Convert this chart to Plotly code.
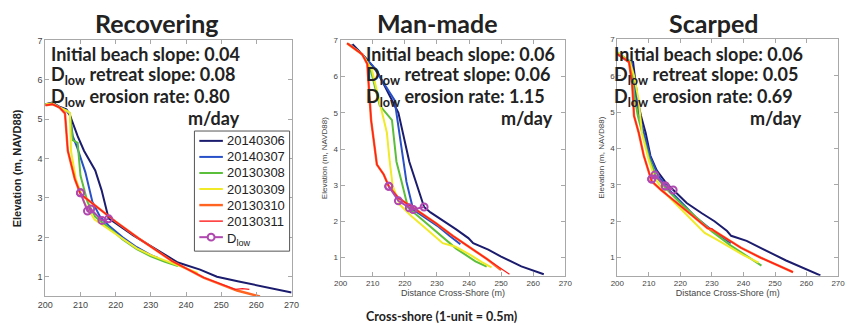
import plotly.graph_objects as go

W, H = 850, 325

# ---------------- data -----------------
dates = ["20140306", "20140307", "20130308", "20130309", "20130310", "20130311"]
colors = ["#1c1c6e", "#2850c8", "#5cbf3c", "#f0ea28", "#ff6420", "#ff1e1e"]
widths = [2, 2, 2, 2, 2.4, 1.2]
dlow_color = "#b048b0"
dlow_label = "D<sub>low</sub>"

# Recovering beach profiles (distance m, elevation m NAVD88)
rec_x_0306 = [200, 202, 204, 206, 207, 208.4, 209.2, 211, 214.2, 216, 218, 220, 225, 230, 237.7, 244, 247, 248.8, 255, 262, 270]
rec_y_0306 = [5.38, 5.42, 5.32, 5.25, 5.1, 4.73, 4.57, 4.2, 3.7, 3.2, 2.48, 2.36, 2.05, 1.78, 1.36, 1.18, 1.08, 1.0, 0.88, 0.75, 0.6]
rec_x_0307 = [200, 202, 204, 206, 207, 207.8, 209, 211.4, 213.4, 215.6, 218, 222, 226, 230, 232]
rec_y_0307 = [5.38, 5.4, 5.3, 5.22, 5.1, 4.57, 4.3, 3.65, 2.9, 2.52, 2.3, 2.0, 1.75, 1.55, 1.48]
rec_x_0308 = [200, 202, 204, 206, 207, 207.8, 209.2, 210, 212, 214.2, 218, 222, 226, 230, 234, 237.7]
rec_y_0308 = [5.38, 5.4, 5.3, 5.22, 5.15, 4.47, 4.4, 3.57, 2.9, 2.52, 2.25, 1.95, 1.7, 1.52, 1.38, 1.27]
rec_x_0309 = [200, 202, 204, 206, 207, 207.3, 208.7, 211, 214, 218, 222, 226, 230, 235, 240, 243.3]
rec_y_0309 = [5.38, 5.4, 5.3, 5.22, 5.15, 4.2, 3.48, 2.9, 2.45, 2.2, 1.95, 1.72, 1.55, 1.38, 1.2, 1.1]
rec_x_0310 = [200, 202, 204, 205.6, 206.4, 208.4, 210, 215, 220, 226.5, 236, 245, 254.5, 261]
rec_y_0310 = [5.35, 5.38, 5.3, 5.15, 4.2, 3.48, 3.1, 2.75, 2.4, 1.98, 1.4, 0.98, 0.65, 0.5]
rec_x_0311 = [200, 202, 204, 205.6, 206.4, 208.4, 210, 215, 220, 226.5, 236, 245, 254, 256, 258]
rec_y_0311 = [5.35, 5.38, 5.3, 5.15, 4.2, 3.48, 3.1, 2.75, 2.4, 1.98, 1.4, 0.98, 0.68, 0.7, 0.68]
rec_dlow_x = [218, 216.1, 212.9, 212, 210, 210]
rec_dlow_y = [2.47, 2.43, 2.72, 2.67, 3.13, 3.13]

# Man-made beach profiles
man_x_0306 = [203.7, 206.7, 211.3, 218, 221.4, 223.5, 226, 228, 231.8, 236, 239.8, 241.3, 246, 250, 256.3, 263.3]
man_y_0306 = [6.9, 6.62, 6.16, 5.0, 3.65, 3.1, 2.4, 2.25, 2.03, 1.78, 1.54, 1.4, 1.22, 1.03, 0.76, 0.54]
man_x_0307 = [203, 206.7, 210, 216.8, 219.6, 220.5, 222.6, 226, 230.6, 234, 237.3]
man_y_0307 = [6.88, 6.62, 6.3, 5.35, 3.65, 3.1, 2.33, 2.12, 1.85, 1.6, 1.37]
man_x_0308 = [202.5, 206.7, 209, 212.2, 216, 217.4, 219, 221, 225, 230, 236, 242, 245.5]
man_y_0308 = [6.9, 6.62, 6.3, 5.2, 4.8, 3.65, 3.1, 2.38, 2.08, 1.7, 1.25, 0.9, 0.75]
man_x_0309 = [202.3, 206.7, 209.7, 214.4, 215.3, 216.2, 218.3, 222, 226, 229.7, 231.8, 235.8, 240, 244, 247]
man_y_0309 = [6.9, 6.62, 6.2, 4.46, 3.65, 3.0, 2.48, 2.15, 1.85, 1.57, 1.4, 1.3, 1.1, 0.88, 0.73]
man_x_0310 = [202, 206.7, 208.3, 209.5, 211.3, 213.4, 215, 218, 222.6, 229.7, 235, 239.8, 245.8, 250]
man_y_0310 = [6.92, 6.62, 6.35, 4.8, 3.57, 3.3, 2.97, 2.65, 2.38, 1.95, 1.6, 1.3, 0.95, 0.66]
man_x_0311 = [202, 206.7, 208.3, 209.5, 211.3, 213.4, 215, 218, 222.6, 229.7, 235, 239.8, 245.8, 252.6]
man_y_0311 = [6.92, 6.62, 6.35, 4.8, 3.57, 3.3, 2.97, 2.65, 2.38, 1.95, 1.6, 1.3, 0.95, 0.54]
man_dlow_x = [226, 222.6, 221.4, 218, 215, 215]
man_dlow_y = [2.4, 2.33, 2.38, 2.57, 2.97, 2.97]

# Scarped beach profiles
sca_x_0306 = [200, 203.7, 205, 206.5, 207.5, 209, 210.5, 212.5, 215.5, 217.7, 222, 226.8, 230.8, 234.8, 236.1, 241, 249.5, 253.5, 264.4]
sca_y_0306 = [6.6, 6.38, 6.38, 5.3, 4.9, 4.43, 3.8, 3.4, 3.05, 2.86, 2.5, 2.22, 2.0, 1.73, 1.6, 1.46, 1.1, 0.92, 0.51]
sca_x_0307 = [200, 204.5, 206, 207, 208.5, 210.5, 213, 216, 220, 225, 230, 236]
sca_y_0307 = [6.62, 6.38, 5.4, 4.9, 4.4, 3.75, 3.25, 2.9, 2.55, 2.1, 1.75, 1.4]
sca_x_0308 = [200, 204.2, 205.5, 206.5, 208, 210, 212.5, 216, 220, 225, 230, 236, 242, 245.7]
sca_y_0308 = [6.65, 6.38, 5.4, 4.9, 4.4, 3.75, 3.2, 2.85, 2.5, 2.1, 1.72, 1.33, 0.98, 0.78]
sca_x_0309 = [200, 204, 205.3, 206.8, 207.8, 209.9, 212, 216, 220, 224, 227.7, 231, 236.1, 240, 244.8]
sca_y_0309 = [6.65, 6.38, 6.0, 5.32, 4.43, 3.7, 3.16, 2.7, 2.35, 2.0, 1.68, 1.52, 1.27, 1.07, 0.86]
sca_x_0310 = [200, 203.7, 204.7, 205.3, 206.8, 208.4, 210.9, 214, 218.4, 223, 228.6, 230.8, 235, 239.2, 245.4, 249.5, 255.7]
sca_y_0310 = [6.6, 6.38, 5.78, 4.9, 4.43, 3.8, 3.1, 2.85, 2.54, 2.2, 1.81, 1.73, 1.5, 1.27, 1.0, 0.84, 0.6]
sca_x_0311 = [200, 203.7, 204.7, 205.3, 206.8, 208.4, 210.9, 214, 218.4, 223, 228.6, 230, 231, 235, 239.2, 245.4, 249.5, 255.7]
sca_y_0311 = [6.6, 6.38, 5.78, 4.9, 4.43, 3.8, 3.1, 2.85, 2.54, 2.2, 1.81, 1.8, 1.72, 1.5, 1.27, 1.0, 0.84, 0.6]
sca_dlow_x = [217.7, 215.2, 215.2, 211.9, 210.9, 210.9]
sca_dlow_y = [2.86, 2.97, 2.97, 3.27, 3.16, 3.16]

panel_titles = ["Recovering", "Man-made", "Scarped"]
initial_slopes = ["0.04", "0.06", "0.06"]
retreat_slopes = ["0.08", "0.06", "0.05"]
erosion_rates = ["0.80", "1.15", "0.69"]

x_ticks = [200, 210, 220, 230, 240, 250, 260, 270]
y_ticks = [1, 2, 3, 4, 5, 6, 7]

panels = [
    ([rec_x_0306, rec_x_0307, rec_x_0308, rec_x_0309, rec_x_0310, rec_x_0311],
     [rec_y_0306, rec_y_0307, rec_y_0308, rec_y_0309, rec_y_0310, rec_y_0311],
     rec_dlow_x, rec_dlow_y),
    ([man_x_0306, man_x_0307, man_x_0308, man_x_0309, man_x_0310, man_x_0311],
     [man_y_0306, man_y_0307, man_y_0308, man_y_0309, man_y_0310, man_y_0311],
     man_dlow_x, man_dlow_y),
    ([sca_x_0306, sca_x_0307, sca_x_0308, sca_x_0309, sca_x_0310, sca_x_0311],
     [sca_y_0306, sca_y_0307, sca_y_0308, sca_y_0309, sca_y_0310, sca_y_0311],
     sca_dlow_x, sca_dlow_y),
]

# plot areas in pixels: (left, right, top, bottom)
boxes = [(38, 289, 36, 296), (339, 568, 36, 275), (621, 846, 35, 275)]


def px_x(p):
    return p / W


def px_y(p):
    return 1 - p / H


fig = go.Figure()

for i, (xs, ys, dx, dy) in enumerate(panels):
    sfx = "" if i == 0 else str(i + 1)
    for k in range(6):
        fig.add_trace(go.Scatter(
            x=xs[k], y=ys[k], mode="lines", name=dates[k],
            line=dict(color=colors[k], width=widths[k]),
            xaxis="x" + sfx, yaxis="y" + sfx, showlegend=False))
    fig.add_trace(go.Scatter(
        x=dx, y=dy, mode="lines+markers", name=dlow_label,
        line=dict(color=dlow_color, width=2),
        marker=dict(symbol="circle-open", size=7, color=dlow_color, line=dict(width=2)),
        xaxis="x" + sfx, yaxis="y" + sfx, showlegend=False))

axis_common = dict(showgrid=False, zeroline=False, mirror="allticks", showline=True,
                   linecolor="#a8a8a8", linewidth=1, ticks="inside", ticklen=4,
                   tickcolor="#a8a8a8")

layout = dict(width=W, height=H, margin=dict(l=0, r=0, t=0, b=0),
              paper_bgcolor="white", plot_bgcolor="white", showlegend=False,
              font=dict(family="Arial, Liberation Sans", color="#333"))

annotations = []
shapes = []
for i, (l, r, t, b) in enumerate(boxes):
    sfx = "" if i == 0 else str(i + 1)
    tick_size = 9 if i == 0 else 8
    xa = dict(axis_common, domain=[px_x(l), px_x(r)], range=[200, 270], tickvals=x_ticks,
              tickfont=dict(size=tick_size, color="#444"), anchor="y" + sfx)
    ya = dict(axis_common, domain=[px_y(b), px_y(t)], range=[0.5, 7], tickvals=y_ticks,
              tickfont=dict(size=tick_size, color="#444"), anchor="x" + sfx)
    if i == 0:
        ya["title"] = dict(text="<b>Elevation (m, NAVD88)</b>", font=dict(size=11, color="#222"), standoff=13)
    else:
        xa["title"] = dict(text="Distance Cross-Shore (m)", font=dict(size=9, color="#444"), standoff=0)
        ya["title"] = dict(text="Elevation (m, NAVD88)", font=dict(size=8, color="#444"), standoff=4)
    layout["xaxis" + sfx] = xa
    layout["yaxis" + sfx] = ya

# panel titles
title_centers = [152, 438, 719]
for i, name in enumerate(panel_titles):
    annotations.append(dict(text="<b>" + name + "</b>", xref="paper", yref="paper",
                            x=px_x(title_centers[i]), y=px_y(18), xanchor="center", yanchor="middle",
                            showarrow=False, font=dict(family="Lato", size=25, color="#222")))

# slope / rate text blocks
text_left = [42, 363, 616]
text_right = [238, 558, 811]
line_ys = [50, 72, 94, 115]
info_font = dict(family="Lato", size=18, color="#222")
for i in range(3):
    lines = ["<b>Initial beach slope: " + initial_slopes[i] + "</b>",
             "<b>D<sub>low</sub> retreat slope: " + retreat_slopes[i] + "</b>",
             "<b>D<sub>low</sub> erosion rate: " + erosion_rates[i] + "</b>"]
    for j, txt in enumerate(lines):
        annotations.append(dict(text=txt, xref="paper", yref="paper",
                                x=px_x(text_left[i]), y=px_y(line_ys[j]), xanchor="left",
                                yanchor="middle", showarrow=False, font=info_font))
    annotations.append(dict(text="<b>m/day</b>", xref="paper", yref="paper",
                            x=px_x(text_right[i]), y=px_y(line_ys[3]), xanchor="right",
                            yanchor="middle", showarrow=False, font=info_font))

annotations.append(dict(text="<b>Cross-shore (1-unit = 0.5m)</b>", xref="paper", yref="paper",
                        x=px_x(442), y=px_y(316), xanchor="center", yanchor="middle",
                        showarrow=False, font=dict(family="Lato", size=12.5, color="#222")))

# legend box for the Recovering panel, drawn in paper pixels
leg_l, leg_r, leg_t, leg_b = 190, 287, 128, 250
shapes.append(dict(type="rect", xref="paper", yref="paper",
                   x0=px_x(leg_l), x1=px_x(leg_r), y0=px_y(leg_b), y1=px_y(leg_t),
                   line=dict(color="#555", width=1), fillcolor="white", layer="above"))
leg_labels = dates + [dlow_label]
leg_colors = colors + [dlow_color]
leg_widths = widths[:5] + [1.4, 2]
for k, lab in enumerate(leg_labels):
    yc = 138 + 16.3 * k
    shapes.append(dict(type="line", xref="paper", yref="paper",
                       x0=px_x(195), x1=px_x(219), y0=px_y(yc), y1=px_y(yc),
                       line=dict(color=leg_colors[k], width=leg_widths[k]), layer="above"))
    if k == 6:
        shapes.append(dict(type="circle", xref="paper", yref="paper",
                           x0=px_x(203.5), x1=px_x(210.5), y0=px_y(yc + 3.5), y1=px_y(yc - 3.5),
                           line=dict(color=dlow_color, width=2), fillcolor="white", layer="above"))
    annotations.append(dict(text=lab, xref="paper", yref="paper",
                            x=px_x(221), y=px_y(yc + (2 if k == 6 else 0)), xanchor="left", yanchor="middle",
                            showarrow=False,
                            font=dict(family="Arial, Liberation Sans", size=13, color="#222")))

layout["annotations"] = annotations
layout["shapes"] = shapes

fig.update_layout(**layout)
fig.write_html("out.html")
